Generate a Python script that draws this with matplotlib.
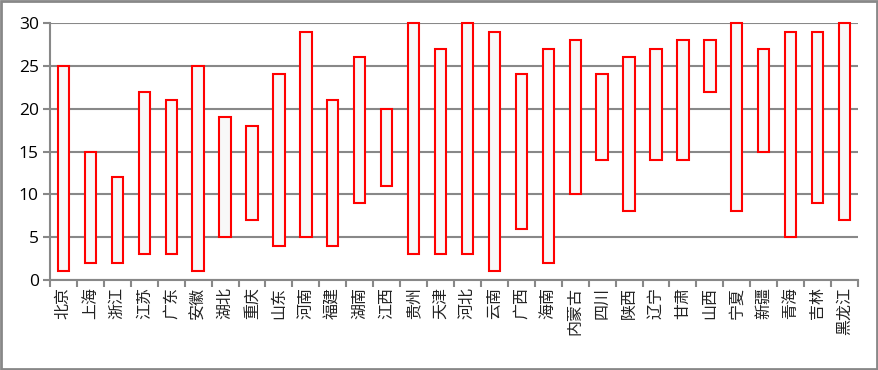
import matplotlib.pyplot as plt
import numpy as np
from matplotlib.patches import Rectangle

plt.rcParams['font.family'] = ['Noto Sans CJK SC', 'DejaVu Sans']

provinces = ["北京", "上海", "浙江", "江苏", "广东", "安徽", "湖北", "重庆", "山东", "河南",
             "福建", "湖南", "江西", "贵州", "天津", "河北", "云南", "广西", "海南", "内蒙古",
             "四川", "陕西", "辽宁", "甘肃", "山西", "宁夏", "新疆", "青海", "吉林", "黑龙江"]
low = [1, 2, 2, 3, 3, 1, 5, 7, 4, 5,
       4, 9, 11, 3, 3, 3, 1, 6, 2, 10,
       14, 8, 14, 14, 22, 8, 15, 5, 9, 7]
high = [25, 15, 12, 22, 21, 25, 19, 18, 24, 29,
        21, 26, 20, 30, 27, 30, 29, 24, 27, 28,
        24, 26, 27, 28, 28, 30, 27, 29, 29, 30]

grid_color = "#888888"

fig = plt.figure(figsize=(8.79, 3.70), dpi=100)
ax = fig.add_axes([50 / 879, 1 - 280 / 370, 808 / 879, 257 / 370])

x = np.arange(len(provinces))
heights = np.array(high) - np.array(low)
bars = ax.bar(x, heights, bottom=low, width=0.42, color="#F8F8F8",
              edgecolor="red", linewidth=1.5, zorder=3)
for b in bars:
    b.set_clip_on(False)

ax.set_xlim(-0.5, len(provinces) - 0.5)
ax.set_ylim(0, 30)
ax.set_yticks(range(0, 31, 5))
ax.yaxis.grid(True, color=grid_color, linewidth=1.5, zorder=0)
ax.set_axisbelow(True)

ax.set_xticks(x)
ax.set_xticklabels(provinces, rotation=90, fontsize=11.5, color="#222222")
ax.tick_params(axis="x", length=0, pad=5)
ax.set_xticks(np.arange(-0.5, len(provinces)), minor=True)
ax.tick_params(axis="x", which="minor", length=5, width=1.5, color=grid_color)
ax.tick_params(axis="y", length=5, width=1.5, color=grid_color, labelsize=12.5, pad=3)
for lbl in ax.get_yticklabels():
    lbl.set_family(["Open Sans", "DejaVu Sans"])

for side in ["top", "right"]:
    ax.spines[side].set_visible(False)
for side in ["left", "bottom"]:
    ax.spines[side].set_color(grid_color)
    ax.spines[side].set_linewidth(1.5)

# Outer frame
fig.patches.append(Rectangle((0.001, 0.002), 0.997, 0.995, transform=fig.transFigure,
                             fill=False, edgecolor=grid_color, linewidth=2))

fig.savefig("out.png", dpi=100)
